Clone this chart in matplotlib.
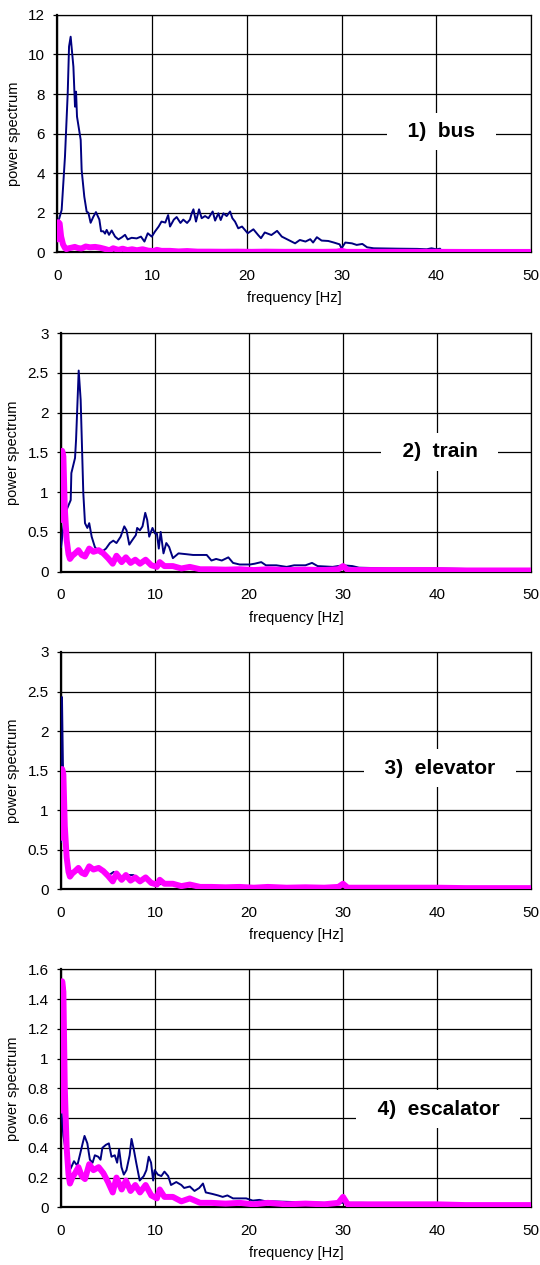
import matplotlib
matplotlib.use("Agg")
import matplotlib.pyplot as plt
import numpy as np
import matplotlib.ticker as ticker

plt.rcParams['font.family'] = ['Liberation Sans', 'DejaVu Sans']

# reference spectrum (thick magenta line, same in every panel)
ref_freq = [0.0, 0.12, 0.25, 0.4, 0.6, 0.8, 0.95, 1.2, 1.5, 1.85, 2.2, 2.55, 3.0, 3.45, 4.0,
            4.5, 5.0, 5.5, 5.9, 6.45, 6.9, 7.4, 7.9, 8.4, 9.0, 9.6, 10.2, 10.5, 11.0, 11.9,
            12.8, 13.7, 14.8, 16.0, 17.5, 19.0, 20.5, 22.0, 24.0, 26.0, 28.0, 29.5, 30.0,
            30.5, 32.0, 35.0, 38.0, 40.0, 43.0, 46.0, 50.0]
ref_vals = [0.65, 1.52, 1.45, 0.8, 0.4, 0.22, 0.16, 0.2, 0.23, 0.27, 0.21, 0.19, 0.29, 0.25, 0.27,
            0.23, 0.17, 0.10, 0.20, 0.12, 0.18, 0.11, 0.15, 0.10, 0.15, 0.08, 0.06, 0.12, 0.07, 0.07,
            0.04, 0.06, 0.03, 0.03, 0.025, 0.03, 0.02, 0.03, 0.02, 0.025, 0.02, 0.03, 0.07,
            0.02, 0.02, 0.02, 0.02, 0.02, 0.015, 0.015, 0.015]

# 1) bus
bus_freq = [0.0, 0.2, 0.46, 0.81, 1.1, 1.24, 1.41, 1.7, 1.87, 1.98, 2.08, 2.47, 2.57, 2.85, 3.1,
            3.28, 3.52, 3.8, 4.08, 4.44, 4.62, 4.86, 5.04, 5.21, 5.46, 5.74, 6.1, 6.45, 6.8,
            7.15, 7.43, 7.85, 8.38, 8.83, 9.2, 9.55, 9.97, 10.3, 10.7, 11.0, 11.4, 11.7, 11.9,
            12.3, 12.6, 13.0, 13.3, 13.7, 14.0, 14.19, 14.37, 14.64, 14.96, 15.24, 15.6, 15.95,
            16.4, 16.66, 17.0, 17.25, 17.53, 17.88, 18.24, 18.48, 18.76, 19.1, 19.5, 20.1, 20.7,
            21.2, 21.5, 21.9, 22.6, 23.2, 23.7, 24.4, 25.1, 25.6, 26.2, 26.7, 27.0, 27.4, 27.9,
            28.6, 29.2, 29.8, 30.0, 30.4, 31.1, 31.6, 32.2, 32.7, 33.4, 36.0, 38.0, 39.0, 39.5,
            40.0, 40.4, 40.6, 50.0]
bus_vals = [1.45, 1.7, 2.14, 4.83, 8.04, 10.4, 10.9, 9.38, 7.36, 8.12, 6.86, 5.68, 4.16, 2.81, 2.05,
            2.0, 1.49, 1.79, 2.03, 1.65, 1.06, 1.06, 0.94, 1.13, 0.88, 1.1, 0.79, 0.65, 0.75,
            0.88, 0.65, 0.73, 0.7, 0.79, 0.54, 0.96, 0.79, 1.04, 1.3, 1.55, 1.5, 1.88, 1.3,
            1.65, 1.78, 1.48, 1.65, 1.48, 1.65, 1.97, 2.17, 1.55, 2.17, 1.72, 1.83, 1.72,
            2.06, 1.6, 1.97, 1.63, 1.97, 1.83, 2.06, 1.72, 1.55, 1.21, 1.3, 0.96, 1.16,
            0.87, 0.71, 1.0, 0.87, 1.08, 0.79, 0.62, 0.45, 0.62, 0.54, 0.66, 0.49, 0.76, 0.59,
            0.57, 0.49, 0.4, 0.2, 0.49, 0.45, 0.37, 0.42, 0.25, 0.2, 0.18, 0.17, 0.15, 0.2,
            0.15, 0.18, 0.03, 0.03]

# 2) train
train_freq = [0.0, 0.42, 1.03, 1.1, 1.49, 1.6, 1.88, 2.09, 2.37, 2.55, 2.8, 3.0, 3.26, 3.6, 4.14,
              4.78, 5.2, 5.56, 5.9, 6.34, 6.73, 6.97, 7.26, 7.6, 7.96, 8.1, 8.39, 8.67, 8.96,
              9.17, 9.38, 9.73, 10.0, 10.2, 10.4, 10.6, 10.9, 11.2, 11.5, 11.9, 12.5, 13.3,
              14.05, 14.8, 15.5, 16.0, 16.5, 17.1, 17.8, 18.3, 19.0, 20.1, 20.6, 21.3, 21.8,
              22.9, 24.0, 24.8, 26.0, 26.7, 27.3, 28.9, 30.0, 31.0, 31.7, 35.0, 40.0, 45.0, 50.0]
train_vals = [0.31, 0.73, 0.9, 1.24, 1.43, 1.66, 2.53, 2.16, 0.99, 0.61, 0.55, 0.61, 0.44, 0.31, 0.23,
              0.29, 0.36, 0.39, 0.36, 0.44, 0.57, 0.52, 0.34, 0.4, 0.46, 0.55, 0.52, 0.57, 0.74,
              0.65, 0.44, 0.55, 0.48, 0.48, 0.29, 0.5, 0.23, 0.36, 0.31, 0.17, 0.23, 0.22,
              0.21, 0.21, 0.21, 0.14, 0.16, 0.14, 0.18, 0.11, 0.09, 0.09, 0.1, 0.12, 0.08,
              0.08, 0.06, 0.08, 0.08, 0.11, 0.07, 0.06, 0.08, 0.07, 0.05, 0.04, 0.04, 0.03, 0.03]

# 3) elevator
elev_freq = [0.0, 0.1, 0.2, 0.35, 0.6, 0.9, 1.5, 2.2, 3.0, 4.0, 5.0, 5.6, 6.4, 7.0, 7.7, 8.4,
             9.0, 10.2, 11.0, 13.0, 15.0, 20.0, 30.0, 40.0, 50.0]
elev_vals = [0.6, 2.43, 1.6, 0.9, 0.4, 0.2, 0.24, 0.2, 0.28, 0.25, 0.17, 0.22, 0.15, 0.18, 0.18, 0.1,
             0.14, 0.06, 0.07, 0.05, 0.03, 0.03, 0.03, 0.02, 0.02]

# 4) escalator
esc_freq = [0.0, 0.25, 0.6, 1.02, 1.38, 1.73, 2.0, 2.3, 2.5, 2.8, 3.07, 3.36, 3.6, 3.96, 4.2, 4.4,
            4.77, 5.09, 5.37, 5.72, 5.97, 6.18, 6.43, 6.68, 6.96, 7.3, 7.5, 7.74, 8.0, 8.37, 8.8,
            9.08, 9.33, 9.58, 9.8, 9.96, 10.3, 10.67, 11.0, 11.4, 11.7, 12.26, 12.8, 13.1, 13.7,
            14.2, 14.7, 15.1, 15.4, 16.1, 16.7, 17.2, 17.7, 18.3, 19.0, 19.7, 20.4, 21.1, 21.8,
            22.5, 25.0, 28.0, 32.0, 36.0, 40.0, 50.0]
esc_vals = [0.68, 0.48, 0.34, 0.26, 0.31, 0.28, 0.35, 0.43, 0.48, 0.43, 0.32, 0.3, 0.35, 0.34, 0.32, 0.4,
            0.42, 0.43, 0.34, 0.35, 0.3, 0.39, 0.27, 0.22, 0.25, 0.35, 0.46, 0.39, 0.3, 0.18, 0.21,
            0.25, 0.34, 0.3, 0.18, 0.25, 0.22, 0.21, 0.24, 0.21, 0.15, 0.17, 0.15, 0.13, 0.14,
            0.11, 0.13, 0.16, 0.1, 0.09, 0.08, 0.07, 0.08, 0.06, 0.06, 0.06, 0.045, 0.05, 0.04,
            0.04, 0.035, 0.03, 0.03, 0.025, 0.02, 0.02]

panels = [
    ("1)  bus", bus_freq, bus_vals, 12, 2),
    ("2)  train", train_freq, train_vals, 3, 0.5),
    ("3)  elevator", elev_freq, elev_vals, 3, 0.5),
    ("4)  escalator", esc_freq, esc_vals, 1.6, 0.2),
]

# axes rectangles [left, bottom, width, height] in figure fractions
rects = [
    [0.1061, 0.8006, 0.8772, 0.1876],
    [0.1130, 0.5481, 0.8704, 0.1885],
    [0.1130, 0.2970, 0.8704, 0.1876],
    [0.1130, 0.0456, 0.8704, 0.1881],
]
label_pos = [(0.811, 0.509), (0.806, 0.502), (0.806, 0.511), (0.803, 0.413)]

fig = plt.figure(figsize=(5.4, 12.65), dpi=100)

for (name, freq, vals, ymax, ystep), rect, lpos in zip(panels, rects, label_pos):
    ax = fig.add_axes(rect)
    ax.plot(freq, vals, color='#000080', lw=1.4, zorder=3)
    ax.plot(ref_freq, ref_vals, color='#ff00ff', lw=4.3, solid_capstyle='round',
            solid_joinstyle='round', zorder=4)

    ax.set_xlim(0, 50)
    ax.set_ylim(0, ymax)
    ax.xaxis.set_major_locator(ticker.MultipleLocator(10))
    ax.yaxis.set_major_locator(ticker.MultipleLocator(ystep))
    ax.yaxis.set_major_formatter(ticker.FormatStrFormatter('%g'))
    ax.grid(True, color='black', lw=0.9)
    ax.set_axisbelow(True)

    for side in ['left', 'bottom']:
        ax.spines[side].set_linewidth(1.6)
    for side in ['top', 'right']:
        ax.spines[side].set_linewidth(0.9)
    ax.tick_params(axis='y', direction='out', length=3, width=0.9, pad=6, labelsize=11)
    ax.tick_params(axis='x', direction='out', length=0, pad=12, labelsize=11)

    ax.set_xlabel("frequency [Hz]", fontsize=10.5, labelpad=6)
    ax.set_ylabel("power spectrum", fontsize=10.5, labelpad=5)

    # white label box, padded with spaces so it is wider than tall
    ax.text(lpos[0], lpos[1], "  " + name + "  ", transform=ax.transAxes,
            ha='center', va='center', fontsize=15, fontweight='bold', zorder=5,
            bbox=dict(boxstyle='square,pad=0.45', facecolor='white', edgecolor='none'))

plt.savefig("out.png", dpi=100)
